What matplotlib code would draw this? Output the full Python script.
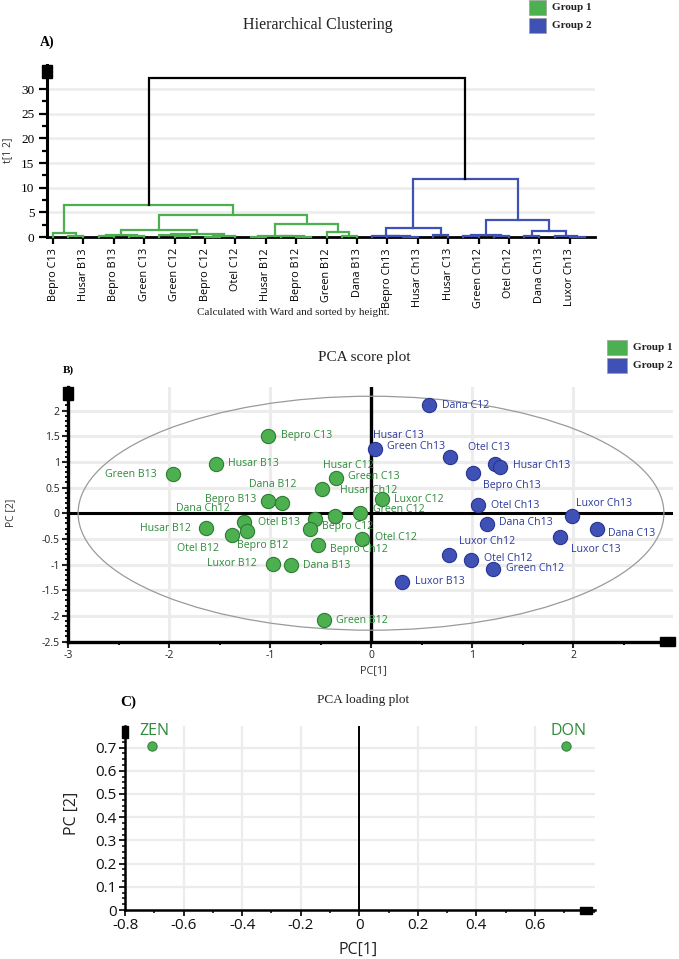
import matplotlib
matplotlib.use('Agg')
import matplotlib.pyplot as plt
from matplotlib.patches import Rectangle, Ellipse
from matplotlib.ticker import MultipleLocator, FixedLocator

plt.rcParams['font.family'] = ['Open Sans', 'DejaVu Sans']

GREEN = '#4caf50'
GREEN_EDGE = '#2e7d32'
BLUE = '#3f51b5'
BLUE_EDGE = '#283593'
GREEN_TXT = '#2e8b3a'
BLUE_TXT = '#2b3a9c'
GRID = '#ececec'
SERIF = 'Liberation Serif'

# ---------------- data: hierarchical clustering (Ward) ----------------
group_sizes = [21, 15]
leaf_tick_labels = ["Bepro C13", "Husar B13", "Bepro B13", "Green C13", "Green C12",
                    "Bepro C12", "Otel C12", "Husar B12", "Bepro B12", "Green B12",
                    "Dana B13", "Bepro Ch13", "Husar Ch13", "Husar C13", "Green Ch12",
                    "Otel Ch12", "Dana Ch13", "Luxor Ch13"]
link_left = [1, 0, 3, 5, 38, 8, 7, 10, 43, 42, 40, 13, 16, 15, 47, 19, 18, 50, 46, 37,
             23, 22, 21, 25, 58, 27, 29, 61, 31, 34, 33, 64, 63, 60, 55]
link_right = [2, 36, 4, 6, 39, 9, 41, 11, 12, 44, 45, 14, 17, 48, 49, 20, 51, 52, 53, 54,
              24, 56, 57, 26, 59, 28, 30, 62, 32, 35, 65, 66, 67, 68, 69]
link_height = [0.3, 0.8, 0.15, 0.2, 0.5, 0.2, 0.4, 0.1, 0.3, 0.65, 1.4, 0.1, 0.1, 0.15, 0.2,
               0.2, 1.0, 2.6, 4.5, 6.5, 0.1, 0.2, 0.3, 0.5, 1.8, 0.3, 0.15, 0.5, 0.2, 0.1,
               0.2, 1.2, 3.4, 11.8, 32.2]

# ---------------- data: PCA scores ----------------
g1_names = ["Bepro C13", "Husar B13", "Green B13", "Husar Ch12", "Bepro B13", "Dana B12",
            "Husar B12", "Otel B13", "Bepro B12", "Otel B12", "Dana Ch12", "Bepro C12",
            "Bepro Ch12", "Luxor B12", "Dana B13", "Green B12", "Green C13", "Luxor C12",
            "Green C12", "Husar C12", "Otel C12"]
g1_pc1 = [-1.02, -1.53, -1.96, -0.49, -1.02, -0.88, -1.63, -1.26, -1.23, -1.38, -0.55,
          -0.60, -0.52, -0.97, -0.79, -0.47, -0.35, 0.11, -0.11, -0.36, -0.09]
g1_pc2 = [1.51, 0.96, 0.76, 0.47, 0.23, 0.20, -0.29, -0.18, -0.35, -0.42, -0.12,
          -0.31, -0.62, -0.98, -1.01, -2.09, 0.69, 0.27, 0.00, -0.05, -0.50]
g2_names = ["Dana C12", "Green Ch13", "Husar C13", "Otel C13", "Husar Ch13", "Bepro Ch13",
            "Otel Ch13", "Luxor Ch13", "Dana Ch13", "Dana C13", "Luxor C13", "Luxor Ch12",
            "Otel Ch12", "Green Ch12", "Luxor B13"]
g2_pc1 = [0.57, 0.04, 0.78, 1.23, 1.28, 1.01, 1.06, 1.99, 1.15, 2.24, 1.87, 0.77, 0.99,
          1.21, 0.31]
g2_pc2 = [2.10, 1.25, 1.09, 0.96, 0.91, 0.78, 0.16, -0.05, -0.21, -0.31, -0.47, -0.82,
          -0.91, -1.09, -1.35]
ellipse_a = 2.9
ellipse_b = 2.28

# ---------------- data: PCA loadings ----------------
load_names = ["ZEN", "DON"]
load_pc1 = [-0.707, 0.707]
load_pc2 = [0.707, 0.707]

# label placement (pixels offset, horizontal alignment)
g1_off = [(13, 0, 'left'), (12, 0, 'left'), (-16, 0, 'right'), (18, -1, 'left'),
          (-12, 2, 'right'), (14, 18, 'right'), (-15, 0, 'right'), (14, 0, 'left'),
          (-10, -14, 'left'), (-13, -14, 'right'), (-86, 11, 'right'), (12, 3, 'left'),
          (12, -4, 'left'), (-16, 0, 'right'), (12, 0, 'left'), (12, 0, 'left'),
          (12, 1, 'left'), (12, 0, 'left'), (13, 4, 'left'), (-12, 50, 'left'),
          (13, 1, 'left')]
g2_off = [(13, 0, 'left'), (12, 3, 'left'), (-77, 22, 'left'), (-27, 16, 'left'),
          (13, 1, 'left'), (10, -12, 'left'), (13, 0, 'left'), (4, 12, 'left'),
          (12, 1, 'left'), (11, -4, 'left'), (11, -12, 'left'), (10, 14, 'left'),
          (13, 1, 'left'), (13, 1, 'left'), (13, 1, 'left')]

W, H = 679, 959
fig = plt.figure(figsize=(W / 100, H / 100), dpi=100)


def axes_px(left, top, right, bottom):
    return fig.add_axes([left / W, 1 - bottom / H, (right - left) / W, (bottom - top) / H])


def block(ax, w_ax, h_ax, xa, ya, w, h):
    ax.add_patch(Rectangle((xa - w / 2 / w_ax, ya - h / 2 / h_ax), w / w_ax, h / h_ax,
                           transform=ax.transAxes, color='black', clip_on=False, zorder=6))


def ftext(x, y, s, **kw):
    fig.text(x / W, 1 - y / H, s, **kw)


def legend(x, y, dy, sq_w, sq_h):
    for i, (c, lab) in enumerate([(GREEN, 'Group 1'), (BLUE, 'Group 2')]):
        fig.patches.append(Rectangle((x / W, 1 - (y + i * dy + sq_h) / H), sq_w / W, sq_h / H,
                                     transform=fig.transFigure, facecolor=c,
                                     edgecolor='#9e9e9e', lw=0.5))
        ftext(x + sq_w + 6, y + i * dy + sq_h / 2, lab, family=SERIF, fontsize=8,
              fontweight='bold', va='center', ha='left', color='#222222')


# ================= A) dendrogram =================
ax1 = axes_px(47, 65, 595, 237)
n_leaves = sum(group_sizes)
leaf_group = []
for gi, n in enumerate(group_sizes):
    leaf_group += [gi] * n
node_x = [float(i) for i in range(n_leaves)]
node_h = [0.0] * n_leaves
node_groups = [{g} for g in leaf_group]
colors = [GREEN, BLUE]
for a, b, h in zip(link_left, link_right, link_height):
    grp = node_groups[a] | node_groups[b]
    col = colors[next(iter(grp))] if len(grp) == 1 else 'black'
    ax1.plot([node_x[a], node_x[a], node_x[b], node_x[b]],
             [node_h[a], h, h, node_h[b]], color=col, lw=1.6,
             solid_joinstyle='miter', clip_on=False, zorder=3)
    node_x.append((node_x[a] + node_x[b]) / 2)
    node_h.append(h)
    node_groups.append(grp)

ax1.set_xlim(-0.4, 35.66)
ax1.set_ylim(0, 34.9)
for s in ['top', 'right']:
    ax1.spines[s].set_visible(False)
ax1.spines['left'].set_linewidth(2.2)
ax1.spines['bottom'].set_linewidth(2.0)
ax1.yaxis.set_minor_locator(MultipleLocator(2.5))
ax1.set_yticks([0, 5, 10, 15, 20, 25, 30])
ax1.tick_params(axis='y', which='major', length=6, width=1.6, labelsize=9.5, pad=3)
ax1.tick_params(axis='y', which='minor', length=3.5, width=1.6)
for t in ax1.get_yticklabels():
    t.set_family(SERIF)
ax1.set_xticks(list(range(0, n_leaves, 2)))
ax1.set_xticklabels(leaf_tick_labels, rotation=90, fontsize=7.8)
ax1.tick_params(axis='x', length=5, width=1.6, pad=3)
for yv in [5, 10, 15, 20, 25, 30]:
    ax1.axhline(yv, color=GRID, lw=1.8, zorder=0)
block(ax1, 548, 172, 0, 0.962, 10, 13)
ftext(8, 150, 't[1 2]', rotation=90, fontsize=7.5, va='center', ha='center', color='#333333')
ftext(318, 25, 'Hierarchical Clustering', family=SERIF, fontsize=11.5, ha='center',
      va='center', color='#222222')
ftext(40, 42, 'A)', family=SERIF, fontsize=10, fontweight='bold', ha='left', va='center')
ftext(293, 313, 'Calculated with Ward and sorted by height.', family=SERIF, fontsize=8,
      ha='center', va='center', color='#222222')
legend(529, 0, 17.5, 17, 15)

# ================= B) PCA score plot =================
ax2 = axes_px(68, 387, 673, 641.5)
ax2.set_xlim(-3, 2.99)
ax2.set_ylim(-2.5, 2.46)
for xv in [-2, -1, 1, 2]:
    ax2.axvline(xv, color=GRID, lw=2.2, zorder=0)
for yv in [-2, -1.5, -1, -0.5, 0.5, 1, 1.5, 2]:
    ax2.axhline(yv, color=GRID, lw=2.2, zorder=0)
ax2.axhline(0, color='black', lw=2.2, zorder=1)
ax2.axvline(0, color='black', lw=2.4, zorder=1)
ax2.add_patch(Ellipse((0, 0), 2 * ellipse_a, 2 * ellipse_b, fill=False,
                      edgecolor='#9a9a9a', lw=0.9, zorder=2))
ax2.scatter(g1_pc1, g1_pc2, s=105, color=GREEN, edgecolor=GREEN_EDGE, lw=0.8, zorder=4)
ax2.scatter(g2_pc1, g2_pc2, s=105, color=BLUE, edgecolor=BLUE_EDGE, lw=0.8, zorder=4)
for n, x, y, (dx, dy, ha) in zip(g1_names, g1_pc1, g1_pc2, g1_off):
    ax2.annotate(n, (x, y), xytext=(dx, dy), textcoords='offset pixels', ha=ha,
                 va='center', fontsize=7.6, color=GREEN_TXT, zorder=5)
for n, x, y, (dx, dy, ha) in zip(g2_names, g2_pc1, g2_pc2, g2_off):
    ax2.annotate(n, (x, y), xytext=(dx, dy), textcoords='offset pixels', ha=ha,
                 va='center', fontsize=7.6, color=BLUE_TXT, zorder=5)
for s in ['top', 'right']:
    ax2.spines[s].set_visible(False)
ax2.spines['left'].set_linewidth(2.4)
ax2.spines['bottom'].set_linewidth(2.4)
ax2.set_xticks([-3, -2, -1, 0, 1, 2])
ax2.xaxis.set_minor_locator(FixedLocator([-2.5, -1.5, -0.5, 0.5, 1.5, 2.5]))
ax2.set_yticks([-2.5, -2, -1.5, -1, -0.5, 0, 0.5, 1, 1.5, 2])
ax2.set_yticklabels(['-2.5', '-2', '-1.5', '-1', '-0.5', '0', '0.5', '1', '1.5', '2'])
ax2.set_xticklabels(['-3', '-2', '-1', '0', '1', '2'])
ax2.yaxis.set_minor_locator(MultipleLocator(0.1))
ax2.tick_params(which='major', length=4, width=1.5, labelsize=7.5, pad=2, colors='#222222')
ax2.tick_params(which='minor', length=2.5, width=1.3)
block(ax2, 605, 254.5, 0, 0.974, 10, 13)
block(ax2, 605, 254.5, 0.991, 0, 15, 9)
ftext(11, 513, 'PC [2]', rotation=90, fontsize=7.5, va='center', ha='center', color='#333333')
ftext(373, 671, 'PC[1]', fontsize=7.8, va='center', ha='center', color='#333333')
ftext(364, 357, 'PCA score plot', family=SERIF, fontsize=11, ha='center', va='center',
      color='#222222')
ftext(63, 370, 'B)', family=SERIF, fontsize=8, fontweight='bold', ha='left', va='center')
legend(607, 340, 18, 20, 15)

# ================= C) PCA loading plot =================
ax3 = axes_px(125, 726, 595, 910)
ax3.set_xlim(-0.8, 0.805)
ax3.set_ylim(0, 0.793)
for xv in [-0.6, -0.4, -0.2, 0.2, 0.4, 0.6]:
    ax3.axvline(xv, color=GRID, lw=1.6, zorder=0)
for yv in [0.1, 0.2, 0.3, 0.4, 0.5, 0.6, 0.7]:
    ax3.axhline(yv, color=GRID, lw=1.6, zorder=0)
ax3.axvline(0, color='black', lw=1.4, zorder=1)
ax3.scatter(load_pc1, load_pc2, s=45, color=GREEN, edgecolor=GREEN_EDGE, lw=0.7, zorder=4)
for n, x, y in zip(load_names, load_pc1, load_pc2):
    ax3.annotate(n, (x, y), xytext=(2, 15), textcoords='offset pixels', ha='center',
                 va='center', fontsize=11.5, color=GREEN_TXT, zorder=5)
for s in ['top', 'right']:
    ax3.spines[s].set_visible(False)
ax3.spines['left'].set_linewidth(1.8)
ax3.spines['bottom'].set_linewidth(1.8)
ax3.set_xticks([-0.8, -0.6, -0.4, -0.2, 0, 0.2, 0.4, 0.6])
ax3.set_xticklabels(['-0.8', '-0.6', '-0.4', '-0.2', '0', '0.2', '0.4', '0.6'])
ax3.xaxis.set_minor_locator(MultipleLocator(0.1))
ax3.set_yticks([0, 0.1, 0.2, 0.3, 0.4, 0.5, 0.6, 0.7])
ax3.set_yticklabels(['0', '0.1', '0.2', '0.3', '0.4', '0.5', '0.6', '0.7'])
ax3.yaxis.set_minor_locator(MultipleLocator(0.025))
ax3.tick_params(which='major', length=4, width=1.3, labelsize=11, pad=2, colors='#111111')
ax3.tick_params(which='minor', length=2, width=1.1)
block(ax3, 470, 184, 0, 0.97, 6, 12)
block(ax3, 470, 184, 0.981, 0, 12, 7)
ftext(72, 813, 'PC [2]', rotation=90, fontsize=11.5, va='center', ha='center', color='#222222')
ftext(358, 950, 'PC[1]', fontsize=11.5, va='center', ha='center', color='#222222')
ftext(363, 700, 'PCA loading plot', family=SERIF, fontsize=9.5, ha='center', va='center',
      color='#222222')
ftext(120, 702, 'C)', family=SERIF, fontsize=11, fontweight='bold', ha='left', va='center')

fig.savefig('out.png', dpi=100)
